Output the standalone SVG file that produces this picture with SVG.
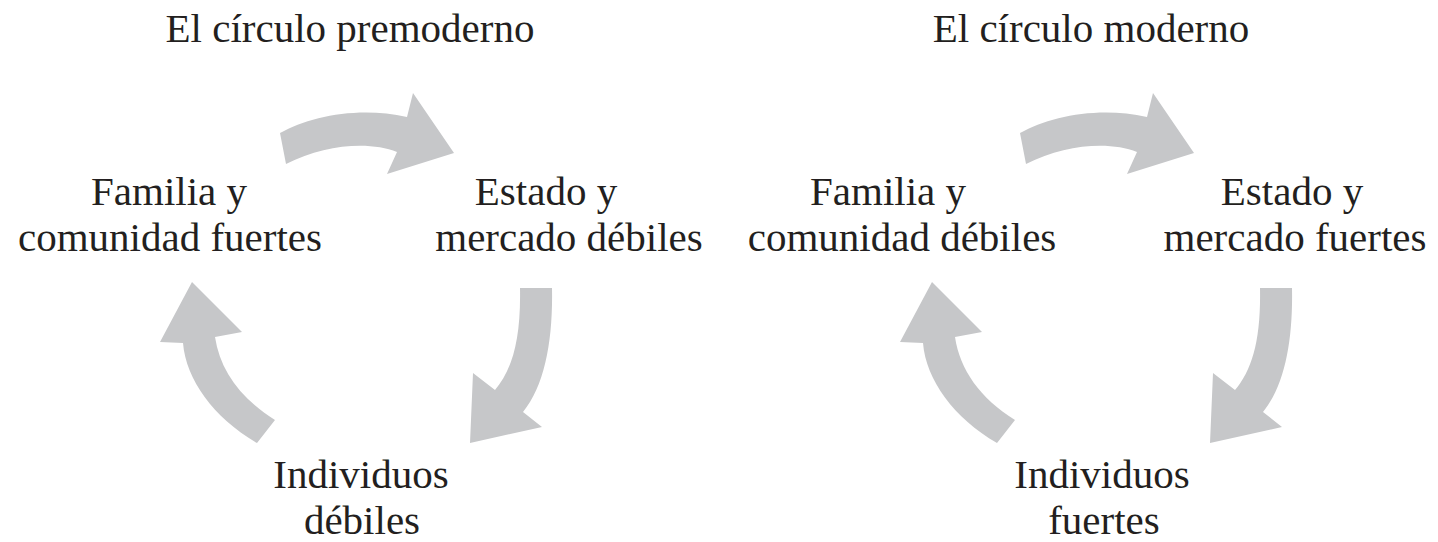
<svg xmlns="http://www.w3.org/2000/svg" xmlns:xlink="http://www.w3.org/1999/xlink" width="1438" height="542" viewBox="0 0 1438 542">
<style>
.t{font-family:"Liberation Serif","DejaVu Serif",serif;font-size:41px;fill:#231f20;text-anchor:middle}
.a{fill:#c6c7c9}
</style>
<defs>
<path id="arTop" class="a" d="M280,133 C310,116 360,106 407,117 L413,93 L454,153 L387,174 L397,152 C370,141 325,144 286,164 Z"/>
<path id="arRight" class="a" d="M520,288 L552,288 C553,340 545,385 523,412 L542,427 L470,443 L473,373 L495,390 C512,370 521,340 520,288 Z"/>
<path id="arLeft" class="a" d="M192,282 L242,332 L215,337 C220,370 240,398 275,420 L257,443 C214,418 186,380 183,343 L160,342 Z"/>
</defs>
<g id="connectors">
<use xlink:href="#arTop"/>
<use xlink:href="#arRight"/>
<use xlink:href="#arLeft"/>
<use xlink:href="#arTop" transform="translate(740,0)"/>
<use xlink:href="#arRight" transform="translate(740,0)"/>
<use xlink:href="#arLeft" transform="translate(740,0)"/>
</g>
<g id="title-premoderno"><text class="t" x="350" y="42">El círculo premoderno</text></g>
<g id="node-familia-fuertes"><text class="t" x="169" y="205">Familia y</text><text class="t" x="170" y="251">comunidad fuertes</text></g>
<g id="node-estado-debiles"><text class="t" x="546" y="205">Estado y</text><text class="t" x="569" y="251">mercado débiles</text></g>
<g id="node-individuos-debiles"><text class="t" x="361" y="488">Individuos</text><text class="t" x="362" y="534">débiles</text></g>
<g id="title-moderno"><text class="t" x="1091" y="42">El círculo moderno</text></g>
<g id="node-familia-debiles"><text class="t" x="888" y="205">Familia y</text><text class="t" x="902" y="251">comunidad débiles</text></g>
<g id="node-estado-fuertes"><text class="t" x="1292" y="205">Estado y</text><text class="t" x="1295" y="251">mercado fuertes</text></g>
<g id="node-individuos-fuertes"><text class="t" x="1102" y="488">Individuos</text><text class="t" x="1104" y="534">fuertes</text></g>
</svg>
